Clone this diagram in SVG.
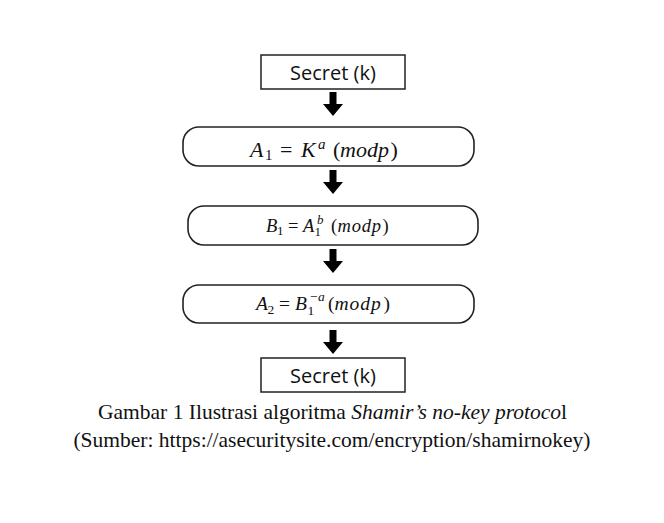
<svg xmlns="http://www.w3.org/2000/svg" width="664" height="523" viewBox="0 0 664 523">
<style>
.box{fill:#fff;stroke:#222;stroke-width:1.5}
.rbox{fill:#fff;stroke:#222;stroke-width:1.6}
.lbl{font-family:"Open Sans","Noto Sans",sans-serif;font-size:20px;fill:#111;text-anchor:middle}
.math{font-family:"Liberation Serif","Times New Roman",serif;fill:#111}
.i{font-style:italic}
.cap{font-family:"Liberation Serif","Times New Roman",serif;font-size:21.5px;fill:#111;text-anchor:middle}
.arr{fill:#000}
</style>
<rect width="664" height="523" fill="#fff"/>
<g id="connectors">
<path class="arr" d="M329.5 92H336.5V104H343L333 116L323 104H329.5Z"/>
<path class="arr" d="M329.5 170H336.5V182H343L333 194L323 182H329.5Z"/>
<path class="arr" d="M329.5 249H336.5V261H343L333 273L323 261H329.5Z"/>
<path class="arr" d="M329.5 330H336.5V342H343L333 354L323 342H329.5Z"/>
</g>
<g id="secret-top">
<rect class="box" x="261" y="55" width="144" height="34"/>
<text class="lbl" x="333" y="80">Secret (k)</text>
</g>
<g id="a1">
<rect class="rbox" x="183" y="127" width="291" height="39" rx="16"/>
<text class="math" font-size="22"><tspan class="i" x="250" y="157">A</tspan><tspan font-size="15" x="265" y="160">1</tspan><tspan x="280" y="157">=</tspan><tspan class="i" x="301" y="157">K</tspan><tspan class="i" font-size="15" x="318" y="149">a</tspan><tspan x="333" y="157">(</tspan><tspan class="i" x="340" y="157">modp</tspan><tspan x="390.5" y="157">)</tspan></text>
</g>
<g id="b1">
<rect class="rbox" x="188" y="206" width="290" height="39" rx="16"/>
<text class="math" font-size="18.5"><tspan class="i" x="266" y="232">B</tspan><tspan font-size="13" x="277" y="235">1</tspan><tspan x="288" y="232">=</tspan><tspan class="i" x="303" y="232">A</tspan><tspan font-size="13" x="314.5" y="235.5">1</tspan><tspan class="i" font-size="13" x="317" y="223.5">b</tspan><tspan x="331" y="232">(</tspan><tspan class="i" x="337.5" y="232" letter-spacing="0.8">modp</tspan><tspan x="382.5" y="232">)</tspan></text>
</g>
<g id="a2">
<rect class="rbox" x="183" y="285" width="291" height="38" rx="16"/>
<text class="math" font-size="19.5"><tspan class="i" x="256" y="310">A</tspan><tspan font-size="13.5" x="267.5" y="313.5">2</tspan><tspan x="279" y="310">=</tspan><tspan class="i" x="295" y="310">B</tspan><tspan font-size="13.5" x="307.5" y="314.5">1</tspan><tspan class="i" font-size="13.5" x="309" y="301">−a</tspan><tspan x="328" y="310">(</tspan><tspan class="i" x="334.5" y="310" letter-spacing="1">modp</tspan><tspan x="383.5" y="310">)</tspan></text>
</g>
<g id="secret-bottom">
<rect class="box" x="261" y="358" width="144" height="34"/>
<text class="lbl" x="333" y="383">Secret (k)</text>
</g>
<g id="caption">
<text class="cap" x="332.5" y="419">Gambar 1 Ilustrasi algoritma <tspan font-style="italic">Shamir’s no-key protoco</tspan>l</text>
<text class="cap" x="332" y="447">(Sumber: https://asecuritysite.com/encryption/shamirnokey)</text>
</g>
</svg>
